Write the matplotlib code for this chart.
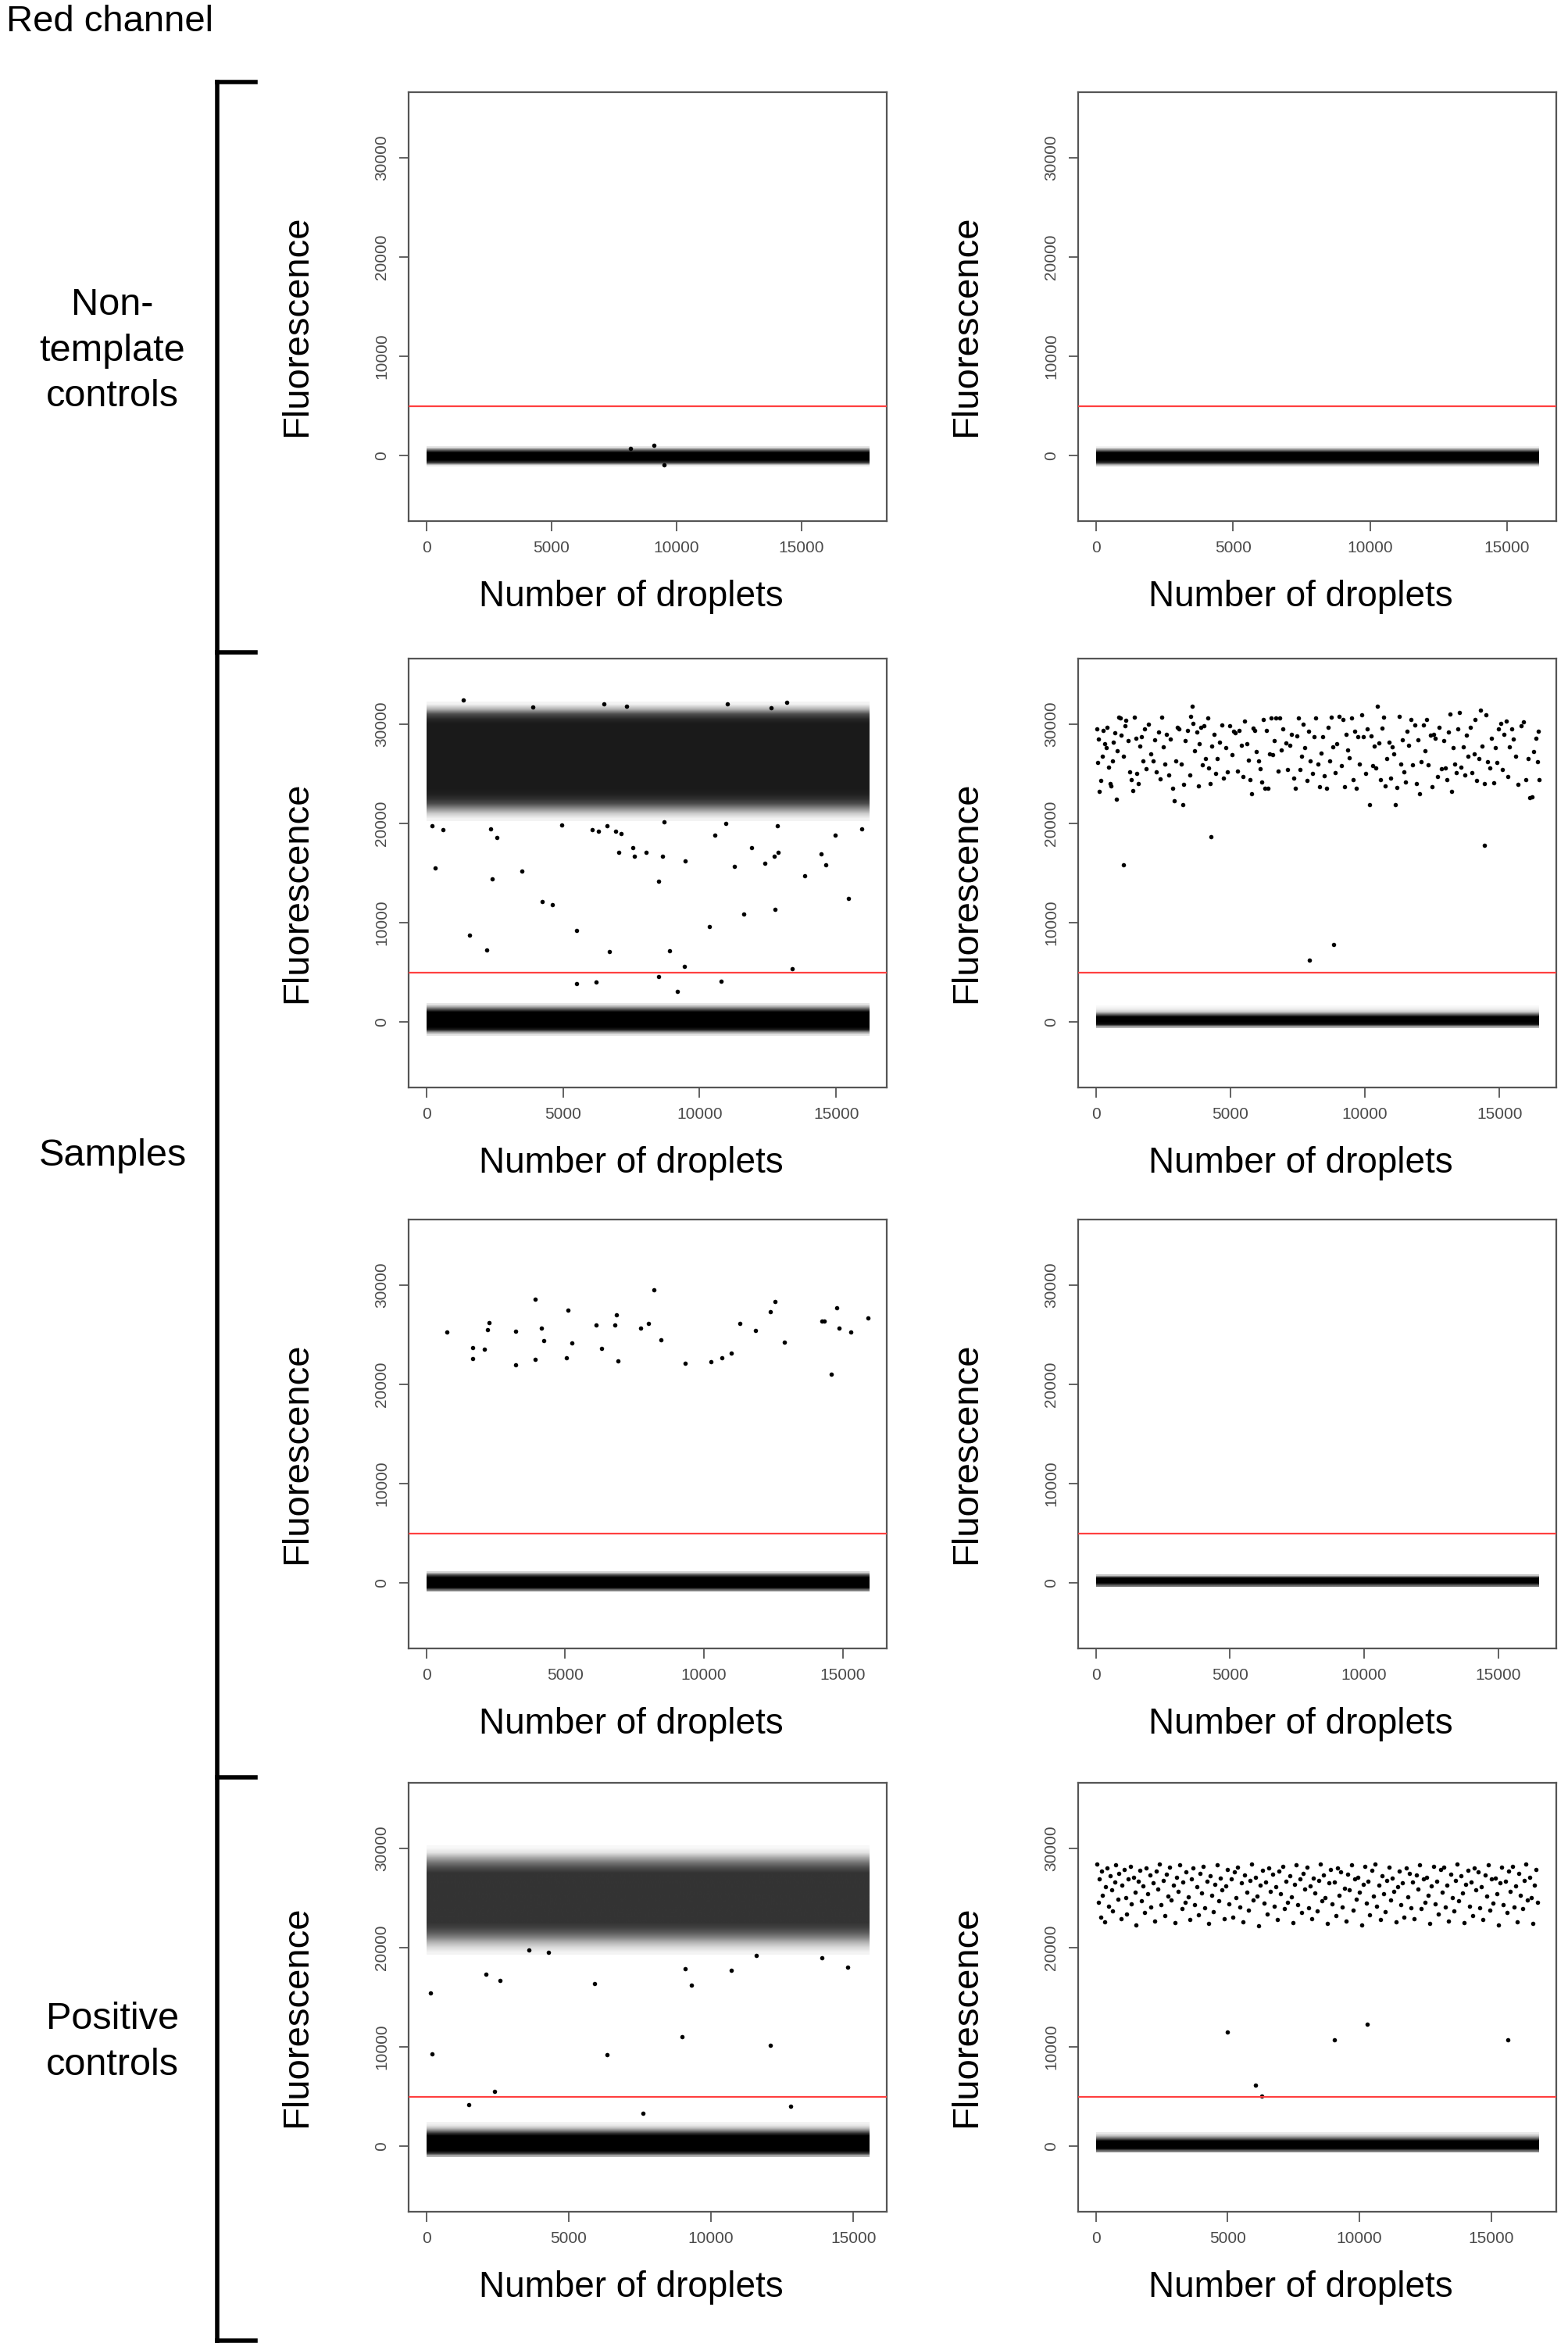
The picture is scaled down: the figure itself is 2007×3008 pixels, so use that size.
import numpy as np
import matplotlib.pyplot as plt
from matplotlib.lines import Line2D

plt.rcParams["font.family"] = ["Liberation Sans", "DejaVu Sans"]

W, H = 2008, 3008
YLIM = (-6600, 36600)
THRESHOLD = 5000
Y_TICKS = [0, 10000, 20000, 30000]
X_TICKS = [0, 5000, 10000, 15000]

group_labels = ["Non-\ntemplate\ncontrols", "Samples", "Positive\ncontrols"]

# droplets per well (row by row, left then right)
n_droplets = [17700, 16150, 16200, 16450, 15950, 16500, 15550, 16800]

# negative droplets are too dense to pick out one by one: ink coverage of the
# band read at evenly spaced fluorescence levels (first level, then step 250)
neg_start = [-1000, -1000, -1250, -500, -750, -250, -1000, -500]
neg_cover = [
    [0.1, 0.8, 1, 1, 1, 1, 0.6, 0.1],
    [0.2, 0.85, 1, 1, 1, 1, 0.5, 0.05],
    [0.1, 0.4, 0.9, 1, 1, 1, 1, 1, 1, 1, 0.7, 0.35, 0.1],
    [0.3, 0.95, 1, 1, 1, 0.6, 0.2, 0.08, 0.03],
    [0.5, 1, 1, 1, 1, 1, 0.7, 0.15],
    [0.6, 1, 1, 1, 0.2],
    [0.3, 0.8, 1, 1, 1, 1, 1, 1, 1, 0.8, 0.5, 0.25, 0.1, 0.05],
    [0.5, 1, 1, 1, 1, 0.6, 0.25, 0.08],
]
NEG_STEP = 250

# dense positive clouds, same idea (first level, then step 500)
pos_start = [None, None, 20500, None, None, None, 19500, None]
pos_cover = [
    None,
    None,
    [0.05, 0.2, 0.45, 0.7, 0.82, 0.88, 0.9, 0.9, 0.9, 0.9, 0.9, 0.9, 0.9, 0.9, 0.9, 0.9,
     0.9, 0.9, 0.9, 0.9, 0.85, 0.7, 0.3, 0.05],
    None,
    None,
    None,
    [0.05, 0.15, 0.3, 0.5, 0.65, 0.75, 0.8, 0.8, 0.8, 0.8, 0.8, 0.8, 0.8, 0.8, 0.8, 0.8,
     0.8, 0.7, 0.55, 0.35, 0.12, 0.03],
    None,
]
POS_STEP = 500

# individual droplets
ntc1_x = [8150, 9100, 9500]
ntc1_y = [700, 1000, -900]
ntc2_x = []
ntc2_y = []

s1_x = [214, 321, 597, 1592, 2204, 2357, 2403, 2587, 3505, 4240, 4607, 4959, 5494, 5494,
        6076, 6214, 6290, 6612, 6704, 6933, 7056, 7117, 7560, 7606, 8035, 8494, 8494, 8647,
        8708, 8907, 9198, 9443, 9473, 10361, 10545, 10774, 10958, 11264, 11616, 11891, 12381,
        12718, 12764, 12871, 12840, 13376, 13835, 14447, 14630, 14952, 15442, 15932,
        1362, 13192, 11004, 6490, 7331, 3887, 12626]
s1_y = [19730, 15480, 19370, 8750, 7240, 19450, 14440, 18580, 15230, 12100, 11850, 19840,
        9220, 3890, 19370, 4000, 19190, 19770, 7090, 19190, 17070, 19010, 17570, 16710, 17070,
        14190, 4610, 16670, 20170, 7200, 3100, 5620, 16200, 9580, 18830, 4070, 20020, 15700,
        10840, 17570, 15950, 16710, 11340, 17070, 19730, 5330, 14730, 16920, 15840, 18830,
        12460, 19450,
        32410, 32160, 32050, 32050, 31800, 31690, 31640]

s2_x = [1031, 4288, 7933, 8830, 14447,
        30, 60, 90, 130, 180, 230, 280, 330, 380, 430, 470, 520, 560, 610, 650, 700, 760, 800,
        850, 900, 950,
        1020, 1080, 1120, 1200, 1260, 1320, 1380, 1420, 1480, 1530, 1580, 1640, 1700, 1760,
        1820, 1880, 1950,
        2050, 2120, 2180, 2250, 2320, 2380, 2440, 2500, 2560, 2620, 2700, 2780, 2860, 2920, 2970,
        3040, 3100, 3160, 3220, 3260, 3320, 3400, 3480, 3520, 3580, 3620, 3680, 3740, 3800,
        3850, 3900, 3960,
        4020, 4080, 4150, 4200, 4260, 4320, 4380, 4440, 4520, 4600, 4680, 4750, 4820, 4900, 4960,
        5050, 5120, 5180, 5250, 5320, 5400, 5460, 5520, 5600, 5680, 5740, 5800, 5850, 5900, 5950,
        6040, 6100, 6160, 6220, 6280, 6340, 6400, 6460, 6520, 6580, 6640, 6700, 6760, 6820,
        6900, 6960,
        7050, 7120, 7200, 7280, 7340, 7400, 7460, 7520, 7580, 7640, 7700, 7760, 7840, 7900, 7960,
        8050, 8120, 8180, 8240, 8300, 8380, 8440, 8500, 8580, 8640, 8700, 8760, 8820, 8880, 8950,
        9050, 9120, 9180, 9240, 9300, 9360, 9420, 9500, 9560, 9620, 9680, 9740, 9800, 9880, 9950,
        10020, 10080, 10160, 10220, 10280, 10340, 10400, 10460, 10520, 10580, 10640, 10700,
        10760, 10820, 10900, 10960,
        11020, 11080, 11140, 11200, 11260, 11320, 11380, 11440, 11500, 11560, 11620, 11700,
        11780, 11840, 11920, 11980,
        12040, 12100, 12160, 12220, 12300, 12360, 12420, 12480, 12560, 12620, 12700, 12760,
        12840, 12920, 12980,
        13040, 13100, 13160, 13220, 13280, 13340, 13400, 13460, 13520, 13580, 13640, 13700,
        13780, 13840, 13920, 13980,
        14050, 14100, 14160, 14240, 14300, 14360, 14440, 14500, 14560, 14640, 14700, 14780,
        14840, 14900, 14960,
        15040, 15100, 15160, 15240, 15300, 15380, 15440, 15520, 15600, 15700, 15800, 15900,
        15980, 16060, 16120, 16200, 16280, 16340, 16400, 16440, 16460]
s2_y = [15800, 18680, 6240, 7830, 17810,
        29500, 26100, 28500, 23200, 24300, 26800, 29400, 28000, 27600, 29700, 25700, 24000,
        23800, 26300, 28200, 29100, 22400, 27300, 30700, 30600, 28900,
        26800, 29800, 30400, 28300, 25200, 24400, 23300, 30700, 28600, 25000, 24000, 27800,
        28700, 26300, 29500, 25500, 30000,
        27000, 26300, 28400, 25200, 29200, 24500, 30700, 27700, 26000, 29000, 24900, 28500,
        23500, 22300, 26300,
        29700, 29500, 26000, 21900, 23900, 28300, 29400, 24900, 30800, 31800, 30100, 27300,
        29200, 23800, 28000, 29700, 25900,
        29800, 26500, 30600, 25600, 24000, 27800, 29000, 25000, 26500, 28200, 29900, 24600,
        27600, 25200, 29800,
        26900, 29300, 29100, 25300, 29400, 27900, 24700, 30300, 28000, 26400, 24400, 23000,
        29600, 29400, 27200,
        26300, 25500, 24200, 30500, 23500, 29400, 23500, 27000, 30600, 26900, 28300, 30600,
        25300, 30600, 27400, 29500,
        28100, 25400, 27900, 29000, 24600, 23500, 28800, 30600, 25400, 26800, 30000, 27600,
        24300, 29300, 26300,
        25000, 28700, 30600, 26000, 23700, 27100, 28700, 24800, 23500, 29700, 26300, 30700,
        27700, 25100, 28000,
        30800, 25800, 30500, 23700, 29000, 27400, 26600, 30600, 24400, 29300, 23500, 28700,
        26000, 30900, 28700,
        25000, 29500, 21900, 28800, 25800, 27800, 25600, 31800, 28100, 24400, 29600, 30700,
        23800, 26500, 28200, 24600,
        27700, 27000, 21900, 23600, 30800, 26000, 28400, 25200, 24200, 29300, 27900, 30500,
        25900, 29900, 24000, 28400,
        23000, 26200, 29900, 27300, 30500, 25900, 28900, 23700, 29000, 28600, 24700, 29700,
        25500, 28300, 25600,
        24400, 29200, 31000, 23200, 27600, 26000, 25100, 29500, 31200, 25700, 27700, 24900,
        28900, 26800, 29700, 25100,
        27000, 30500, 24300, 26500, 31400, 27800, 24000, 30900, 26200, 25600, 28600, 24100,
        27600, 26100, 29500,
        30100, 25400, 29000, 30300, 24700, 27700, 29500, 28500, 26800, 23900, 29800, 30200,
        24400, 26500, 22600, 22700, 27200, 28600, 26200, 29300, 24400]

s3_x = [741, 1663, 1663, 2086, 2192, 2268, 3205, 3205, 3916, 3916, 4143, 4218, 5050, 5095,
        5231, 6123, 6305, 6788, 6849, 6910, 7711, 8013, 8195, 8452, 9329, 10266, 10659, 10977,
        11294, 11854, 12383, 12564, 12897, 14243, 14349, 14591, 14788, 14863, 15302, 15922]
s3_y = [25240, 23730, 22610, 23510, 25500, 26220, 25350, 22000, 28600, 22500, 25640, 24380,
        22650, 27480, 24130, 25960, 23620, 25960, 26970, 22390, 25640, 26110, 29500, 24520,
        22140, 22250, 22650, 23120, 26110, 25390, 27330, 28340, 24230, 26400, 26400, 20990,
        27730, 25680, 25240, 26720]
s4_x = []
s4_y = []

pc1_x = [160, 210, 2400, 1500, 6340, 7600, 8980, 9300, 12090, 12800, 2100, 2600, 5900,
         9100, 10700, 14800, 13900, 3600, 4300, 11600]
pc1_y = [15400, 9300, 5500, 4200, 9200, 3300, 11000, 16200, 10200, 4000, 17300, 16700,
         16400, 17900, 17700, 18000, 19000, 19800, 19500, 19200]

pc2_x = [4980, 6070, 6300, 9050, 10310, 15640,
         40, 90, 120, 180, 210, 260, 330, 370, 420, 470, 540, 590, 640, 720, 760, 830, 880,
         950, 1000, 1070, 1130, 1180, 1240, 1310, 1350, 1420, 1490, 1530, 1600, 1660, 1720,
         1790, 1850, 1900, 1980, 2050, 2100, 2170, 2230, 2300, 2350, 2420, 2480, 2560, 2610,
         2690, 2750, 2800, 2870, 2940, 3000, 3070, 3120, 3190, 3260, 3300, 3380, 3430, 3510,
         3570, 3630, 3700, 3760, 3830, 3880, 3950, 4020, 4080, 4140, 4210, 4270, 4340, 4400,
         4470, 4530, 4600, 4660, 4730, 4790, 4860, 4930, 5000, 5060, 5130, 5200, 5260, 5330,
         5390, 5460, 5520, 5590, 5650, 5720, 5780, 5850, 5910, 5980, 6050, 6110, 6180, 6240,
         6310, 6370, 6440, 6500, 6570, 6630, 6700, 6760, 6830, 6890, 6960, 7020, 7090, 7150,
         7220, 7280, 7350, 7410, 7480, 7540, 7610, 7670, 7740, 7800, 7870, 7930, 8000, 8060,
         8130, 8190, 8260, 8320, 8390, 8450, 8520, 8580, 8650, 8710, 8780, 8840, 8910, 8970,
         9040, 9100, 9170, 9230, 9300, 9360, 9430, 9490, 9560, 9620, 9690, 9750, 9820, 9880,
         9950, 10010, 10080, 10140, 10210, 10270, 10340, 10400, 10470, 10530, 10600, 10660,
         10730, 10790, 10860, 10920, 10990, 11050, 11120, 11180, 11250, 11310, 11380, 11440,
         11510, 11570, 11640, 11700, 11770, 11830, 11900, 11960, 12030, 12090, 12160, 12220,
         12290, 12350, 12420, 12480, 12550, 12610, 12680, 12740, 12810, 12870, 12940, 13000,
         13070, 13130, 13200, 13260, 13330, 13390, 13460, 13520, 13590, 13650, 13720, 13780,
         13850, 13910, 13980, 14040, 14110, 14170, 14240, 14300, 14370, 14430, 14500, 14560,
         14630, 14690, 14760, 14820, 14890, 14950, 15020, 15080, 15150, 15210, 15280, 15340,
         15410, 15470, 15540, 15600, 15670, 15730, 15800, 15860, 15930, 15990, 16060, 16120,
         16190, 16250, 16320, 16380, 16450, 16510, 16580, 16640, 16700, 16760]
pc2_y = [11490, 6130, 5050, 10720, 12250, 10720,
         28400, 24600, 26900, 23100, 27700, 25300, 22600, 26100, 28000, 24200, 27200, 25800,
         23700, 26600, 28300, 24900, 27500, 22900, 26300, 27900, 25000, 23400, 26900, 28200,
         24400, 27100, 25600, 22300, 26700, 27800, 24700, 26200, 23500, 28000, 25400, 27300,
         24100, 26500, 22700, 27700, 25900, 28400, 24300, 26800, 23200, 27400, 25200, 28100,
         24800, 26300, 22500, 27100, 25700, 28300, 23900, 26600, 24600, 27600, 25100, 22800,
         26900, 28000, 24300, 26100, 23300, 27500, 25500, 28200, 24000, 26700, 22400, 27200,
         25300, 23600, 26400, 28300, 24700, 27000, 25800, 22900, 26200, 27900, 24400, 26900,
         23100, 27600, 25000, 28100, 24100, 26500, 22600, 27300, 25600, 23800, 26800, 28400,
         24800, 27100, 25200, 22200, 26300, 27800, 24500, 26600, 23400, 28000, 25700, 27400,
         24200, 26100, 22800, 27700, 25400, 28200, 23900, 26700, 24600, 27200, 25100, 22500,
         26400, 28300, 24300, 26900, 23500, 27500, 25900, 28100, 24000, 26200, 22900, 27000,
         25500, 23700, 26800, 28400, 24700, 27300, 25000, 22400, 26500, 27900, 24400, 26600,
         23200, 28000, 25300, 27600, 24100, 26000, 22700, 27400, 25800, 28300, 23800, 26900,
         24900, 27100, 25600, 22300, 26400, 28200, 24500, 26700, 23300, 27800, 25200, 28400,
         24200, 26300, 22800, 27200, 25400, 23600, 26800, 28100, 24800, 27000, 25700, 22600,
         26100, 27700, 24300, 26500, 23100, 28000, 25100, 27500, 24000, 26600, 22900, 27300,
         25900, 28300, 23900, 26900, 24600, 27100, 25300, 22400, 26200, 28200, 24400, 26700,
         23400, 27900, 25600, 28100, 24100, 26300, 22700, 27400, 25000, 23700, 26800, 28400,
         24700, 27200, 25500, 22500, 26400, 27800, 24200, 26600, 23200, 28000, 25800, 27600,
         24000, 26100, 22800, 27300, 25200, 28300, 23800, 26900, 24500, 27000, 25400, 22300,
         26500, 28100, 24300, 26700, 23500, 27700, 25700, 28200, 24100, 26200, 22600, 27500,
         25300, 23900, 26800, 28400, 24800, 27100, 25000, 22400, 26300, 27900, 24600]

panel_x = [ntc1_x, ntc2_x, s1_x, s2_x, s3_x, s4_x, pc1_x, pc2_x]
panel_y = [ntc1_y, ntc2_y, s1_y, s2_y, s3_y, s4_y, pc1_y, pc2_y]

# layout in reference pixels
col_left = [523, 1380]
row_top = [118, 843, 1561, 2282]
ax_w, ax_h = 612, 549


def draw_cover(ax, n, start, step, cover):
    """Paint a droplet band as black ink with the read coverage as opacity."""
    cover = np.asarray(cover, dtype=float)
    img = np.zeros((len(cover), 2, 4))
    img[:, :, 3] = cover[:, None]
    lo = start - step / 2
    hi = start + step * (len(cover) - 0.5)
    ax.imshow(img, extent=[0, n, lo, hi], origin="lower", aspect="auto",
              interpolation="bilinear", zorder=2)


def draw_panel(ax, i):
    n = n_droplets[i]
    draw_cover(ax, n, neg_start[i], NEG_STEP, neg_cover[i])
    if pos_start[i] is not None:
        draw_cover(ax, n, pos_start[i], POS_STEP, pos_cover[i])
    if panel_x[i]:
        ax.scatter(panel_x[i], panel_y[i], s=16, c="black", lw=0, zorder=3)
    ax.axhline(THRESHOLD, color="#ff4040", lw=1.6, zorder=4)
    ax.set_xlim(-0.04 * n, 1.04 * n)
    ax.set_ylim(*YLIM)
    ax.set_xticks(X_TICKS)
    ax.set_yticks(Y_TICKS)
    ax.set_xticklabels([str(t) for t in X_TICKS])
    ax.set_yticklabels([str(t) for t in Y_TICKS], rotation=90, va="center")
    ax.tick_params(length=9, width=1.3, color="#555555", labelcolor="#4a4a4a",
                   labelsize=15, pad=9)
    for sp in ax.spines.values():
        sp.set_color("#555555")
        sp.set_linewidth(1.6)
    ax.set_xlabel("Number of droplets", fontsize=33)
    ax.set_ylabel("Fluorescence", fontsize=34)
    ax.xaxis.set_label_coords(0.465, -0.137)
    ax.yaxis.set_label_coords(-0.197, 0.455)


fig = plt.figure(figsize=(W / 100, H / 100), dpi=100)
for i in range(8):
    r, c = divmod(i, 2)
    rect = [col_left[c] / W, 1 - (row_top[r] + ax_h) / H, ax_w / W, ax_h / H]
    draw_panel(fig.add_axes(rect), i)

# bracket on the left
bx, tick_end = 278, 327
fig.add_artist(Line2D([bx / W, bx / W], [1 - 105 / H, 1 - 2996 / H], color="black", lw=4,
                      transform=fig.transFigure))
for yb in [105, 835, 2275, 2996]:
    fig.add_artist(Line2D([bx / W, tick_end / W], [1 - yb / H, 1 - yb / H], color="black",
                          lw=4, transform=fig.transFigure))

fig.text(8 / W, 1 - 28 / H, "Red channel", fontsize=34, ha="left", va="center")
for label, yc in zip(group_labels, [449, 1479, 2614]):
    fig.text(144 / W, 1 - yc / H, label, fontsize=35, ha="center", va="center",
             linespacing=1.38)

fig.savefig("out.png", dpi=100)
